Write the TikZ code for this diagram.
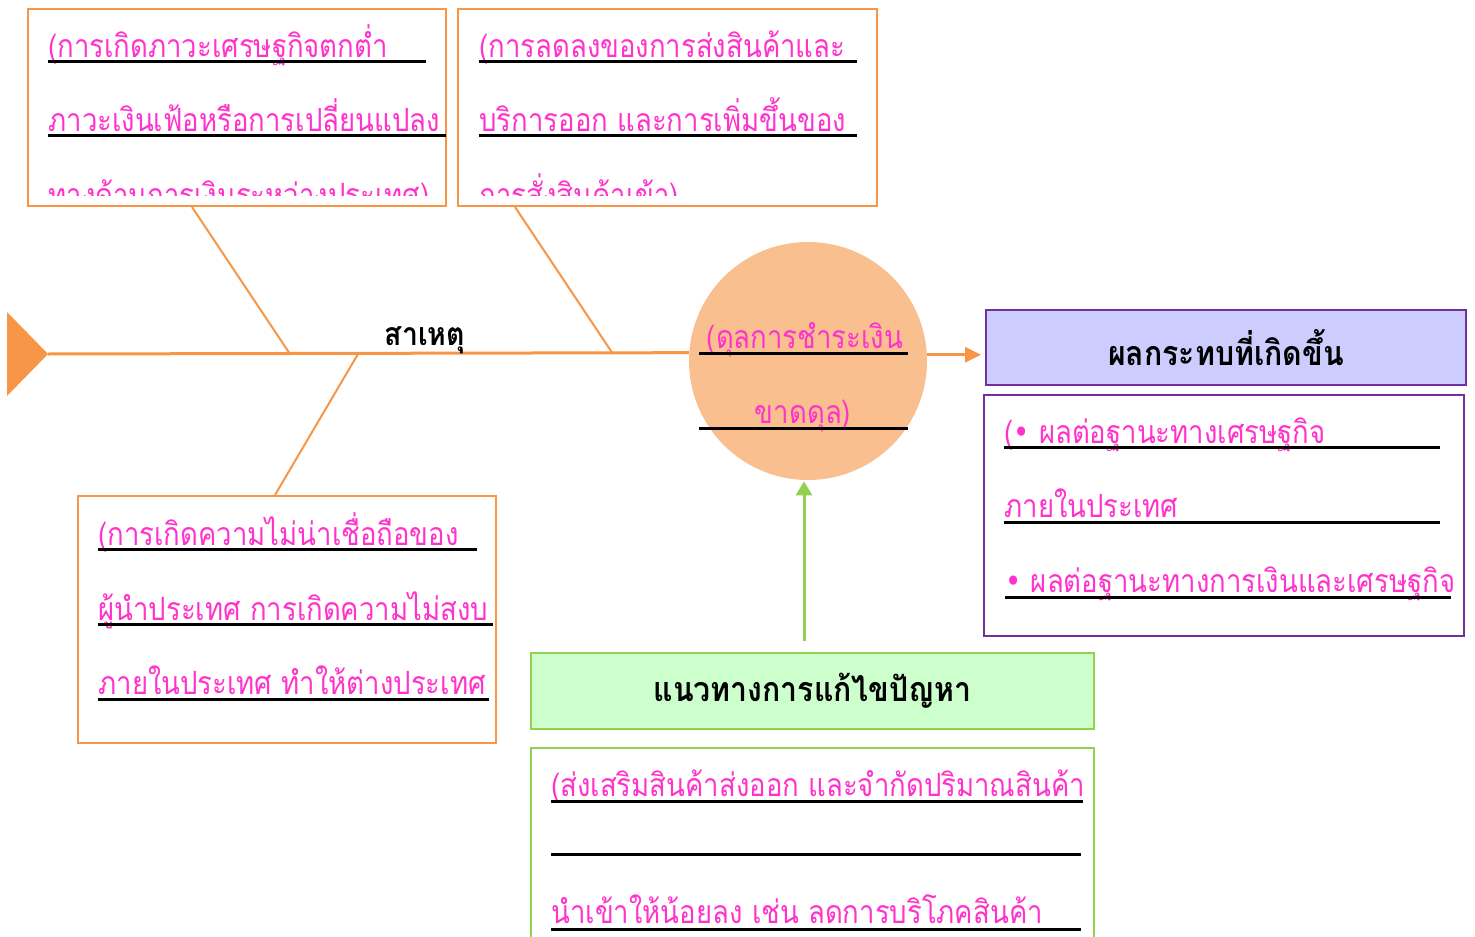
\documentclass[tikz,border=0pt]{standalone}
\usepackage{fontspec}
\usepackage{tikz}
\usetikzlibrary{arrows.meta,positioning,calc}
\newfontfamily\thaifont[Script=Thai, FakeStretch=0.86]{Loma}
\newfontfamily\thaihead[Script=Thai, FakeStretch=0.89]{Loma}
\newfontfamily\symfont[FakeStretch=0.86]{DejaVu Sans}
\definecolor{boneC}{HTML}{F79646}
\definecolor{headC}{HTML}{F9BF8F}
\definecolor{pinkC}{HTML}{FF33CC}
\definecolor{impactC}{HTML}{7030A0}
\definecolor{impactF}{HTML}{CCCCFF}
\definecolor{fixC}{HTML}{92D050}
\definecolor{fixF}{HTML}{CCFFCC}
\tikzset{
  causebox/.style={rectangle, draw=boneC, line width=1pt, fill=white, inner sep=0pt},
  sidebox/.style={rectangle, draw=#1, line width=1pt, fill=white, inner sep=0pt},
  titlebox/.style={rectangle, draw=#1C, line width=1pt, fill=#1F, inner sep=0pt,
                   font=\thaihead\bfseries\fontsize{17}{20}\selectfont},
  ptxt/.style={anchor=base west, inner sep=0pt, text=pinkC, font=\thaifont\fontsize{16}{19}\selectfont},
  uline/.style={line width=1.5pt, draw=black},
  boneline/.style={line width=1pt, draw=boneC},
  spine/.style={line width=1.5pt, draw=boneC},
}
\begin{document}
\begin{tikzpicture}[x=0.5pt, y=-0.5pt]
\clip (0,0) rectangle (1475,936);
\fill[white] (0,0) rectangle (1475,936);
\node[causebox, minimum width=209pt, minimum height=98.5pt] (causeA) at (237,107.5) {};
\node[causebox, minimum width=209.5pt, minimum height=98.5pt] (causeB) at (667.5,107.5) {};
\node[causebox, minimum width=209pt, minimum height=123.5pt] (causeC) at (287,619.5) {};
\node[circle, fill=headC, minimum size=119pt, inner sep=0pt] (head) at (808,361) {};
\node[titlebox=impact, minimum width=240pt, minimum height=37.5pt] (impactT) at (1226,347.5) {ผลกระทบที่เกิดขึ้น};
\node[sidebox=impactC, minimum width=240pt, minimum height=120.5pt] (impactB) at (1224,515.5) {};
\node[titlebox=fix, minimum width=281.5pt, minimum height=38pt] (fixT) at (812.5,691) {แนวทางการแก้ไขปัญหา};
\node[sidebox=fixC, minimum width=281.5pt, minimum height=121pt] (fixB) at (812.5,869) {};
\coordinate (tail) at (48,354);
\coordinate (jA) at (290,354);
\coordinate (jB) at (613,354);
\coordinate (jC) at (358,354);
\fill[boneC] (7,312) -- (tail) -- (7,396) -- cycle;
\draw[spine] (tail) -- (head.176.6);
\draw[boneline] ([xshift=82.5pt]causeA.south west) -- (jA);
\draw[boneline] ([xshift=29pt]causeB.south west) -- (jB);
\draw[boneline] (jC) -- ([xshift=99pt]causeC.north west);
\draw[spine, -{Triangle[length=8pt, width=7.5pt]}, shorten >=2pt] (head.3.4) -- (head.3.4 -| impactT.west);
\draw[line width=1.5pt, draw=fixC, -{Triangle[length=7pt, width=8pt]}, shorten <=5.5pt, shorten >=0.5pt]
  ([xshift=-4.25pt]fixT.north) -- ([xshift=-4.25pt]fixT.north |- head.south);
\node[anchor=base, inner sep=0pt, font=\thaihead\bfseries\fontsize{16}{19}\selectfont] (causeLbl) at (425,345) {สาเหตุ};
\node[ptxt] (a1) at (48,58) {(การเกิดภาวะเศรษฐกิจตกต่ำ};
\draw[uline] (48,62) -- (426,62);
\node[ptxt] (a2) at (48,132) {ภาวะเงินเฟ้อหรือการเปลี่ยนแปลง};
\draw[uline] (48,136) -- (446,136);
\begin{scope}
\clip (28,9) rectangle (446,196);
\node[ptxt] (a3) at (48,206) {ทางด้านการเงินระหว่างประเทศ)};
\end{scope}
\node[ptxt] (b1) at (479,58) {(การลดลงของการส่งสินค้าและ};
\draw[uline] (479,62) -- (857,62);
\node[ptxt] (b2) at (479,132) {บริการออก และการเพิ่มขึ้นของ};
\draw[uline] (479,136) -- (857,136);
\begin{scope}
\clip (458,9) rectangle (877,196);
\node[ptxt] (b3) at (479,206) {การสั่งสินค้าเข้า)};
\end{scope}
\node[ptxt] (c1) at (98,545) {(การเกิดความไม่น่าเชื่อถือของ};
\draw[uline] (98,549) -- (477,549);
\node[ptxt] (c2) at (98,620) {ผู้นำประเทศ การเกิดความไม่สงบ};
\draw[uline] (98,624) -- (493,624);
\node[ptxt] (c3) at (98,694) {ภายในประเทศ ทำให้ต่างประเทศ};
\draw[uline] (98,699) -- (489,699);
\node[ptxt, anchor=base] (h1) at (805,348) {(ดุลการชำระเงิน};
\draw[uline] (699,353) -- (908,353);
\node[ptxt, anchor=base] (h2) at (803,423) {ขาดดุล)};
\draw[uline] (699,428) -- (908,428);
\node[ptxt] (e1) at (1004,443) {({\symfont •} ผลต่อฐานะทางเศรษฐกิจ};
\draw[uline] (1004,447) -- (1440,447);
\node[ptxt] (e2) at (1004,517) {ภายในประเทศ};
\draw[uline] (1004,522) -- (1440,522);
\node[ptxt] (e3) at (1005,592) {{\symfont •} ผลต่อฐานะทางการเงินและเศรษฐกิจ};
\draw[uline] (1005,597) -- (1451,597);
\node[ptxt] (g1) at (551,796) {(ส่งเสริมสินค้าส่งออก และจำกัดปริมาณสินค้า};
\draw[uline] (551,801) -- (1083,801);
\draw[uline] (551,854) -- (1081,854);
\node[ptxt] (g2) at (551,923) {นำเข้าให้น้อยลง เช่น ลดการบริโภคสินค้า};
\draw[uline] (551,929) -- (1081,929);
\end{tikzpicture}
\end{document}
